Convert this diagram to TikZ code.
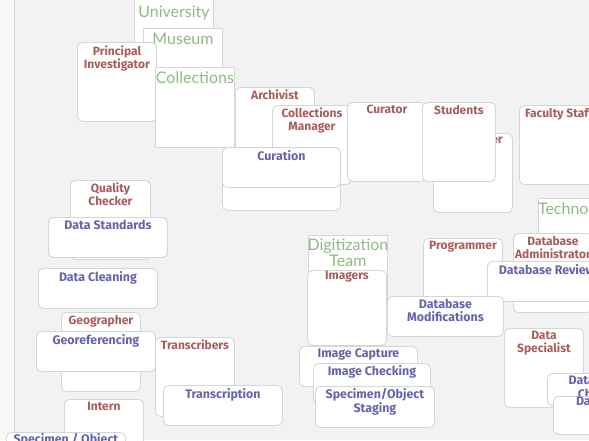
\documentclass[tikz,border=0pt]{standalone}
\usepackage{fontspec}
\setmainfont{Fira Sans}
\newfontfamily\groupfont{Lato}
\usetikzlibrary{positioning}

\definecolor{bggray}{HTML}{F2F2F2}
\definecolor{edgegray}{HTML}{F8F8F8}
\definecolor{boxline}{HTML}{D6D6D6}
\definecolor{rolered}{HTML}{A85D5B}
\definecolor{taskblue}{HTML}{6563AD}
\definecolor{groupgreen}{HTML}{8DBB84}

\tikzset{
  card/.style={draw=boxline, fill=white, line width=0.9pt, inner sep=0pt, anchor=north west},
  role/.style={card, rounded corners=5pt, minimum width=79pt, minimum height=79pt},
  task/.style={card, rounded corners=5pt, minimum width=119pt, minimum height=40pt},
  group/.style={card, minimum width=79pt, minimum height=80pt},
  rolelbl/.style={text=rolered, font=\bfseries\fontsize{12}{12.8}\selectfont, align=center, inner sep=0pt},
  tasklbl/.style={text=taskblue, font=\bfseries\fontsize{12.4}{12.8}\selectfont, align=center, inner sep=0pt},
  grouplbl/.style={text=groupgreen, font=\groupfont\fontsize{16}{16}\selectfont, align=center, inner sep=0pt}
}

\begin{document}
\begin{tikzpicture}[x=1pt, y=-1pt]
    % Canvas
    \useasboundingbox (0,0) rectangle (589,440);
    \clip (0,0) rectangle (589,440);
    \fill[bggray] (0,0) rectangle (589,440);
    \fill[edgegray] (0,0) rectangle (14,440);
    \draw[boxline] (14,0) -- (14,440);

    % Museum column
    \node[group] (univ) at (134,-2) {};
    \node[grouplbl, below=8pt of univ.north] (univ-t) {University};
    \node[group] (museum) at (143,28) {};
    \node[grouplbl, below=5pt of museum.north] (museum-t) {Museum};
    \node[role] (pi) at (77,42) {};
    \node[rolelbl, below=4pt of pi.north] (pi-t) {Principal\\Investigator};
    \node[group] (coll) at (155,67) {};
    \node[grouplbl, below=5pt of coll.north] (coll-t) {Collections};

    % Curation cluster
    \node[role] (arch) at (235,87) {};
    \node[rolelbl, below=3pt of arch.north] (arch-t) {Archivist};
    \node[role] (cmgr) at (272,105) {};
    \node[rolelbl, below=3pt of cmgr.north] (cmgr-t) {Collections\\Manager};
    \node[task, minimum width=118pt] (cur-back) at (222,170) {};
    \node[task, minimum width=118pt] (curation) at (222,147) {};
    \node[tasklbl, below=3pt of curation.north] (curation-t) {Curation};
    \node[role] (curator) at (347,102) {};
    \node[rolelbl, below=3pt of curator.north] (curator-t) {Curator};
    \node[role] (hidden) at (433,133) {};
    \node[rolelbl, anchor=north east] (hidden-t) at ([xshift=-10pt, yshift=-4pt]hidden.north east) {er};
    \node[role, minimum width=73pt] (students) at (422,102) {};
    \node[rolelbl, below=3pt of students.north] (students-t) {Students};
    \node[role] (faculty) at (519,105) {};
    \node[rolelbl, below=3pt of faculty.north] (faculty-t) {Faculty Staff};

    % Data quality column
    \node[role, minimum width=80pt] (qc) at (70,180) {};
    \node[rolelbl, below=3pt of qc.north] (qc-t) {Quality\\Checker};
    \node[task] (dstd) at (48,217) {};
    \node[tasklbl, below=3pt of dstd.north] (dstd-t) {Data Standards};
    \node[task] (dclean) at (38,268) {};
    \node[tasklbl, below=3pt of dclean.north] (dclean-t) {Data Cleaning};
    \node[role] (geo) at (61,312) {};
    \node[rolelbl, below=3pt of geo.north] (geo-t) {Geographer};
    \node[task] (georef) at (36,331) {};
    \node[tasklbl, below=3pt of georef.north] (georef-t) {Georeferencing};
    \node[role] (transc) at (155,337) {};
    \node[rolelbl, below=3pt of transc.north] (transc-t) {Transcribers};
    \node[task] (transcr) at (163,385) {};
    \node[tasklbl, below=3pt of transcr.north] (transcr-t) {Transcription};
    \node[role] (intern) at (64,399) {};
    \node[rolelbl, below=3pt of intern.north] (intern-t) {Intern};
    \node[task] (specobj) at (6,432) {};
    \node[tasklbl, below=1pt of specobj.north] (specobj-t) {Specimen / Object};

    % Technology side
    \node[group] (tech) at (538,198) {};
    \node[grouplbl, below=5pt of tech.north] (tech-t) {Technology};
    \node[group] (digi) at (308,235) {};
    \node[grouplbl, below=4pt of digi.north] (digi-t) {Digitization\\Team};
    \node[role, minimum height=75pt] (imagers) at (307,270) {};
    \node[rolelbl, below=1pt of imagers.north] (imagers-t) {Imagers};
    \node[role] (prog) at (423,238) {};
    \node[rolelbl, below=3pt of prog.north] (prog-t) {Programmer};
    \node[role] (dbadmin) at (513,233) {};
    \node[rolelbl, below=3pt of dbadmin.north] (dbadmin-t) {Database\\Administrator};
    \node[task] (dbrev) at (487,261) {};
    \node[tasklbl, below=3pt of dbrev.north] (dbrev-t) {Database Review};
    \node[task, minimum width=116pt] (dbmod) at (387,296) {};
    \node[tasklbl, below=3pt of dbmod.north] (dbmod-t) {Database\\Modifications};
    \node[task, minimum width=118pt] (capture) at (299,346) {};
    \node[tasklbl, below=2pt of capture.north] (capture-t) {Image Capture};
    \node[task, minimum width=117pt] (checking) at (313,363) {};
    \node[tasklbl, below=2pt of checking.north] (checking-t) {Image Checking};
    \node[task, minimum height=41pt] (staging) at (315,386) {};
    \node[tasklbl, below=2pt of staging.north] (staging-t) {Specimen/Object\\Staging};
    \node[role] (dspec) at (504,328) {};
    \node[rolelbl, below=3pt of dspec.north] (dspec-t) {Data\\Specialist};
    \node[task, minimum width=112pt, minimum height=32pt] (dqc) at (547,373) {};
    \node[tasklbl, below=1pt of dqc.north, font=\bfseries\fontsize{12.4}{11.5}\selectfont] (dqc-t) {Data Quality\\Checking};
    \node[task, minimum width=104pt, minimum height=38pt] (dentry) at (553,396) {};
    \node[tasklbl, below=1pt of dentry.north] (dentry-t) {Data Entry};
\end{tikzpicture}
\end{document}
